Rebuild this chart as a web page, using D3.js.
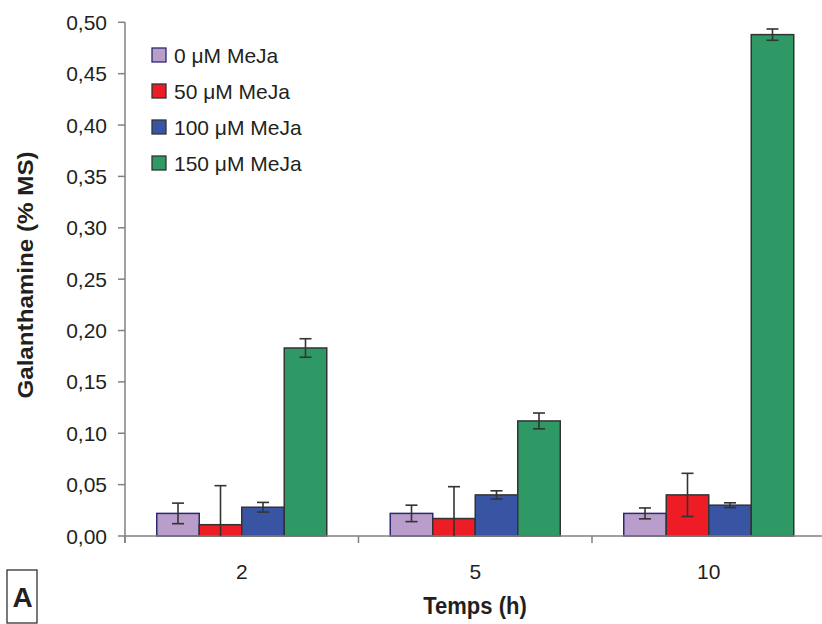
<!DOCTYPE html>
<html><head><meta charset="utf-8">
<script src="https://cdn.jsdelivr.net/npm/d3@7"></script>
<style>
body{margin:0;background:#fff;}
text{font-family:"Liberation Sans",Arial,sans-serif;fill:#231f20;}
</style></head>
<body><svg id="c" width="822" height="624"></svg>
<script>
const categories = ["2", "5", "10"];
const seriesNames = ["0 μM MeJa", "50 μM MeJa", "100 μM MeJa", "150 μM MeJa"];
const values0 = [0.022, 0.022, 0.022];
const values50 = [0.011, 0.017, 0.040];
const values100 = [0.028, 0.040, 0.030];
const values150 = [0.183, 0.112, 0.488];
const err0 = [0.010, 0.008, 0.0053];
const err50 = [0.038, 0.031, 0.021];
const err100 = [0.0047, 0.004, 0.0023];
const err150 = [0.009, 0.0077, 0.0055];
const yTicks = [0, 0.05, 0.10, 0.15, 0.20, 0.25, 0.30, 0.35, 0.40, 0.45, 0.50];
const colors = ["#b99dca", "#ee1d25", "#3a54a4", "#2f9965"];
const borders = ["#2b2a6e", "#333333", "#333333", "#333333"];

const allVals = [values0, values50, values100, values150];
const allErr = [err0, err50, err100, err150];

const svg = d3.select("#c");
const pLeft = 125, pRight = 825.5, pTop = 22.3, pBottom = 536;

const x0 = d3.scaleBand().domain(categories).range([pLeft, pRight]).padding(0);
const x1 = d3.scaleBand().domain(d3.range(4)).range([31.75, 201.75]).padding(0);
const y = d3.scaleLinear().domain([0, 0.5]).range([pBottom, pTop]);

const fmt = d => d.toFixed(2).replace(".", ",");

// bars
categories.forEach((c, ci) => {
  const g = svg.append("g").attr("transform", `translate(${x0(c)},0)`);
  allVals.forEach((vals, si) => {
    const v = vals[ci];
    g.append("rect")
      .attr("x", x1(si)).attr("width", x1.bandwidth())
      .attr("y", y(v)).attr("height", y(0) - y(v))
      .attr("fill", colors[si]).attr("stroke", borders[si]).attr("stroke-width", 1.5);
  });
});

// x axis
const xAxis = svg.append("g").attr("transform", `translate(0,${pBottom})`);
xAxis.append("line").attr("x1", pLeft).attr("x2", 822).attr("y1", 0).attr("y2", 0)
  .attr("stroke", "#808080").attr("stroke-width", 1.5);
[0, 1, 2].forEach(i => {
  const xx = pLeft + i * x0.step();
  xAxis.append("line").attr("x1", xx).attr("x2", xx).attr("y1", 0).attr("y2", 7)
    .attr("stroke", "#808080").attr("stroke-width", 1.5);
});
categories.forEach(c => {
  xAxis.append("text").attr("x", x0(c) + x0.bandwidth() / 2).attr("y", 43)
    .attr("text-anchor", "middle").attr("font-size", 21).text(c);
});

// error bars
categories.forEach((c, ci) => {
  const g = svg.append("g").attr("transform", `translate(${x0(c)},0)`);
  allVals.forEach((vals, si) => {
    const v = vals[ci], e = allErr[si][ci];
    const cx = x1(si) + x1.bandwidth() / 2;
    const hi = v + e, lo = Math.max(0, v - e);
    g.append("line").attr("x1", cx).attr("x2", cx).attr("y1", y(hi)).attr("y2", y(lo))
      .attr("stroke", "#333").attr("stroke-width", 1.6);
    g.append("line").attr("x1", cx - 6).attr("x2", cx + 6).attr("y1", y(hi)).attr("y2", y(hi))
      .attr("stroke", "#333").attr("stroke-width", 1.6);
    if (v - e > 0) {
      g.append("line").attr("x1", cx - 6).attr("x2", cx + 6).attr("y1", y(lo)).attr("y2", y(lo))
        .attr("stroke", "#333").attr("stroke-width", 1.6);
    }
  });
});

// y axis
const yAxis = svg.append("g");
yAxis.append("line").attr("x1", pLeft).attr("x2", pLeft).attr("y1", pTop).attr("y2", pBottom + 7)
  .attr("stroke", "#808080").attr("stroke-width", 1.5);
yTicks.forEach(t => {
  yAxis.append("line").attr("x1", pLeft - 7).attr("x2", pLeft).attr("y1", y(t)).attr("y2", y(t))
    .attr("stroke", "#808080").attr("stroke-width", 1.5);
  yAxis.append("text").attr("x", 107).attr("y", y(t) + 7.5)
    .attr("text-anchor", "end").attr("font-size", 21).text(fmt(t));
});

// axis titles
svg.append("text").attr("transform", "translate(33,275) rotate(-90) scale(1.1,1)")
  .attr("text-anchor", "middle").attr("font-size", 22).attr("font-weight", "bold")
  .text("Galanthamine (% MS)");
svg.append("text").attr("transform", "translate(475,614) scale(1,1.1)")
  .attr("text-anchor", "middle").attr("font-size", 22).attr("font-weight", "bold")
  .text("Temps (h)");

// legend
const leg = svg.append("g");
seriesNames.forEach((n, i) => {
  const cy = 55 + i * 36;
  leg.append("rect").attr("x", 152).attr("y", cy - 7).attr("width", 14).attr("height", 14)
    .attr("fill", colors[i]).attr("stroke", borders[i]).attr("stroke-width", 1.3);
  leg.append("text").attr("x", 174).attr("y", cy + 7.5).attr("font-size", 21).text(n);
});

// panel label
svg.append("rect").attr("x", 7).attr("y", 570).attr("width", 30).attr("height", 53)
  .attr("fill", "none").attr("stroke", "#231f20").attr("stroke-width", 1.2);
svg.append("text").attr("x", 22.5).attr("y", 607).attr("text-anchor", "middle")
  .attr("font-size", 28).attr("font-weight", "bold").text("A");
</script></body></html>
